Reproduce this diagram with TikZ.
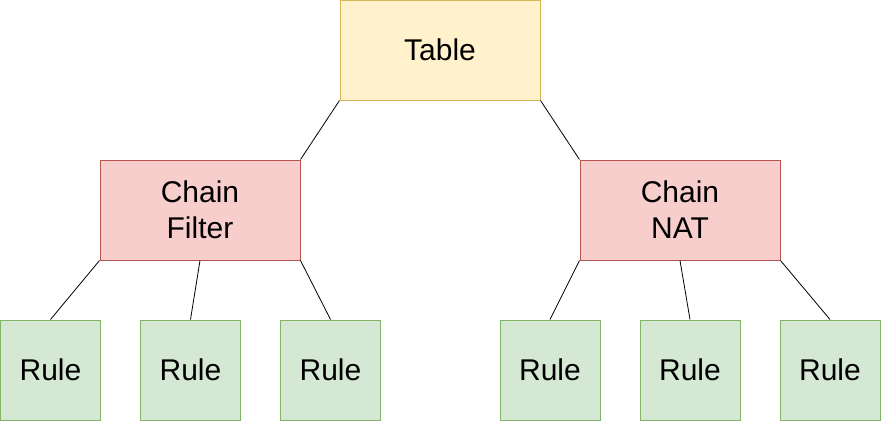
\documentclass[tikz,border=0pt]{standalone}
\usepackage{fontspec}
\setmainfont{Liberation Sans}
\usetikzlibrary{positioning}
\definecolor{tablefill}{HTML}{FFF2CC}
\definecolor{tableline}{HTML}{D6B656}
\definecolor{chainfill}{HTML}{F8CECC}
\definecolor{chainline}{HTML}{B85450}
\definecolor{rulefill}{HTML}{D5E8D4}
\definecolor{ruleline}{HTML}{82B366}
\begin{document}
\begin{tikzpicture}[x=1pt,y=-1pt]
	\useasboundingbox (0,0) rectangle (881,421);
	\tikzstyle{box}=[draw, line width=1pt, inner sep=0pt, align=center, font=\fontsize{30}{36}\selectfont]
	\tikzstyle{tbl}=[box, fill=tablefill, draw=tableline, minimum width=200pt, minimum height=100pt]
	\tikzstyle{chain}=[box, fill=chainfill, draw=chainline, minimum width=200pt, minimum height=100pt]
	\tikzstyle{rul}=[box, fill=rulefill, draw=ruleline, minimum width=100pt, minimum height=100pt]
	\node[tbl] 	(table) at (440,50) {Table};
	\node[chain] 	(filter) at (200,210) {Chain\\Filter};
	\node[chain] 	(nat) at (680,210) {Chain\\NAT};
	\node[rul] 	(r1) at (50.5,370) {Rule};
	\node[rul, right=39pt of r1] 	(r2) {Rule};
	\node[rul, right=39pt of r2] 	(r3) {Rule};
	\node[rul] 	(r4) at (550,370) {Rule};
	\node[rul, right=39pt of r4] 	(r5) {Rule};
	\node[rul, right=39pt of r5] 	(r6) {Rule};

	\begin{scope}[line width=0.8pt]
		\draw	(table.south west) -- (filter.north east);
		\draw	(table.south east) -- (nat.north west);
		\draw	(filter.south west) -- (r1.north);
		\draw	(filter.south) -- (r2.north);
		\draw	(filter.south east) -- (r3.north);
		\draw	(nat.south west) -- (r4.north);
		\draw	(nat.south) -- (r5.north);
		\draw	(nat.south east) -- (r6.north);
	\end{scope}
\end{tikzpicture}
\end{document}
